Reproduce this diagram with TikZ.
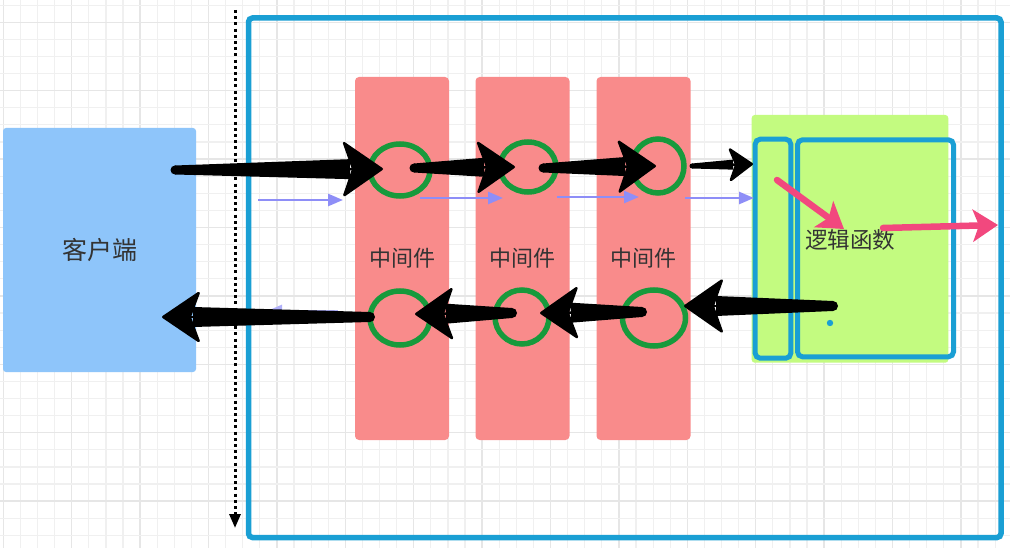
\documentclass[tikz,border=0pt]{standalone}
\usepackage{fontspec}
\newfontfamily\cjk{Noto Sans CJK SC}
\usetikzlibrary{arrows.meta,shapes.geometric,calc}
\definecolor{gridminor}{HTML}{F0F0F0}
\definecolor{gridmajor}{HTML}{E6E6E6}
\definecolor{frameblue}{HTML}{1A9FD4}
\definecolor{clientblue}{HTML}{8EC5FA}
\definecolor{mwred}{HTML}{F98B8B}
\definecolor{logicgreen}{HTML}{C3FB80}
\definecolor{ringgreen}{HTML}{179A3C}
\definecolor{flowpurple}{HTML}{8E8EF7}
\definecolor{flowpink}{HTML}{F2487E}
\definecolor{textgray}{HTML}{333333}
\tikzset{
  mwbox/.style={rectangle,fill=mwred,rounded corners=4pt,minimum width=94pt,minimum height=363pt,inner sep=0pt,text=textgray,font=\cjk\fontsize{22}{22}\selectfont},
  ring/.style={ellipse,draw=ringgreen,line width=5.5pt,inner sep=0pt},
  thinarrow/.style={draw=flowpurple,line width=2.6pt,-{Triangle[length=15pt,width=12pt]}},
  pinkarrow/.style={draw=flowpink,line width=6.5pt,line cap=round,-{Stealth[length=25pt,width=32pt,inset=6pt]}},
  innerframe/.style={draw=frameblue,line width=5pt,rounded corners=5pt}
}
% tapered black arrow: start, end, start half width, end half width, head length, head width, inset
\newcommand{\taperarrow}[7]{%
  \pgfmathsetlengthmacro{\tbd}{#5-#7+1pt}%
  \coordinate (tb) at ($(#2)!\tbd!(#1)$);
  \fill[black] ($(#1)!#3!90:(#2)$) -- ($(tb)!#4!-90:(#1)$) -- ($(tb)!#4!90:(#1)$) -- ($(#1)!#3!-90:(#2)$) -- cycle;
  \fill[black] (#1) circle (#3);
  \draw[black,line width=2.5pt,line join=round,-{Stealth[length=#5,width=#6,inset=#7,round]}] (#1) -- (#2);
}
\begin{document}
\begin{tikzpicture}[x=1pt,y=-1pt]
\useasboundingbox (0,0) rectangle (1010,548);
\fill[white] (0,0) rectangle (1010,548);
% grid
\foreach \i in {0,...,58} {
  \pgfmathtruncatemacro{\m}{mod(\i,4)}
  \ifnum\m=0 \draw[gridmajor,line width=1.3pt] ({3.3+17.1*\i},0) -- ({3.3+17.1*\i},548);
  \else \draw[gridminor,line width=1.2pt] ({3.3+17.1*\i},0) -- ({3.3+17.1*\i},548); \fi
}
\foreach \j in {0,...,31} {
  \pgfmathtruncatemacro{\m}{mod(\j,4)}
  \ifnum\m=1 \draw[gridmajor,line width=1.3pt] (0,{5.2+17.1*\j}) -- (1010,{5.2+17.1*\j});
  \else \draw[gridminor,line width=1.2pt] (0,{5.2+17.1*\j}) -- (1010,{5.2+17.1*\j}); \fi
}
% dotted timeline
\coordinate (dtop) at (235,10);
\coordinate (dbot) at (235,528);
\draw[black,line width=3pt,dash pattern=on 3pt off 3.2pt,-{Triangle[length=14pt,width=11pt]}] (dtop) -- (dbot);
% outer frame
\draw[frameblue,line width=5.5pt,rounded corners=4pt] (248.5,18) rectangle (1001,537.5);
% client
\node[rectangle,fill=clientblue,rounded corners=3pt,minimum width=193pt,minimum height=244pt,inner sep=0pt,text=textgray,font=\cjk\fontsize{25}{25}\selectfont] (client) at (99.5,250) {客户端};
% middleware boxes
\node[mwbox] (mw1) at (402,258.5) {中间件};
\node[mwbox] (mw2) at (522.5,258.5) {中间件};
\node[mwbox] (mw3) at (643.5,258.5) {中间件};
% logic
\fill[logicgreen,rounded corners=3pt] (751.7,115) rectangle (948.3,362.7);
\draw[innerframe] (755.2,139.2) rectangle (790.8,358.2);
\draw[innerframe] (797.5,139.8) rectangle (953.5,356.8);
\coordinate (gate) at (753,164);
\node[text=textgray,font=\cjk\fontsize{22.5}{22.5}\selectfont,inner sep=0pt] (logic) at (850,240) {逻辑函数};
\fill[frameblue] (830,323) circle (3.2pt);
% rings
\node[ring,minimum width=60pt,minimum height=52pt] (c1t) at (400,170) {};
\node[ring,minimum width=56pt,minimum height=50pt] (c2t) at (528,167) {};
\node[ring,minimum width=52pt,minimum height=54pt] (c3t) at (658,166) {};
\node[ring,minimum width=60pt,minimum height=54pt] (c1b) at (400,318) {};
\node[ring,minimum width=54pt,minimum height=54pt] (c2b) at (522,317) {};
\node[ring,minimum width=63pt,minimum height=56pt] (c3b) at (654,318) {};
% purple flow arrows
\coordinate (p1s) at (258,200); \coordinate (p1e) at (343,200);
\coordinate (p2s) at (420,198); \coordinate (p2e) at (503,198);
\coordinate (p3s) at (557,197); \coordinate (p3e) at (639,197);
\coordinate (p4s) at (685,198); \coordinate (p4e) at (754,198);
\coordinate (p5s) at (338,311); \coordinate (p5e) at (267,311);
\draw[thinarrow] (p1s) -- (p1e);
\draw[thinarrow] (p2s) -- (p2e);
\draw[thinarrow] (p3s) -- (p3e);
\draw[thinarrow] (p4s) -- (p4e);
\draw[thinarrow,draw=flowpurple!70] (p5s) -- (p5e);
% black request arrows
\coordinate (a1s) at (175,170); \coordinate (a1e) at (383,169);
\coordinate (a2s) at (414,168); \coordinate (a2e) at (515,167);
\coordinate (a3s) at (543,168); \coordinate (a3e) at (656,166);
\coordinate (a4s) at (692,166);
\taperarrow{a1s}{a1e}{4.5pt}{10pt}{42pt}{58pt}{10pt}
\taperarrow{a2s}{a2e}{4.5pt}{9.5pt}{40pt}{55pt}{10pt}
\taperarrow{a3s}{a3e}{4.5pt}{9.5pt}{40pt}{56pt}{10pt}
\taperarrow{a4s}{gate}{2.5pt}{5pt}{26pt}{37pt}{7pt}
% black response arrows
\coordinate (b1s) at (833,306); \coordinate (b1e) at (684,306);
\coordinate (b2s) at (642,312); \coordinate (b2e) at (540,313);
\coordinate (b3s) at (512,313); \coordinate (b3e) at (415,314);
\coordinate (b4s) at (370,317); \coordinate (b4e) at (162,317);
\taperarrow{b1s}{b1e}{5pt}{10pt}{41pt}{57pt}{10pt}
\taperarrow{b2s}{b2e}{5pt}{10pt}{40pt}{55pt}{10pt}
\taperarrow{b3s}{b3e}{5pt}{10pt}{40pt}{55pt}{10pt}
\taperarrow{b4s}{b4e}{5pt}{10pt}{40pt}{54pt}{10pt}
% pink arrows
\coordinate (k1s) at (777,180); \coordinate (k1e) at (844,229);
\coordinate (k2s) at (883,228); \coordinate (k2e) at (998,225);
\draw[pinkarrow] (k1s) -- (k1e);
\draw[pinkarrow] (k2s) -- (k2e);
\end{tikzpicture}
\end{document}
